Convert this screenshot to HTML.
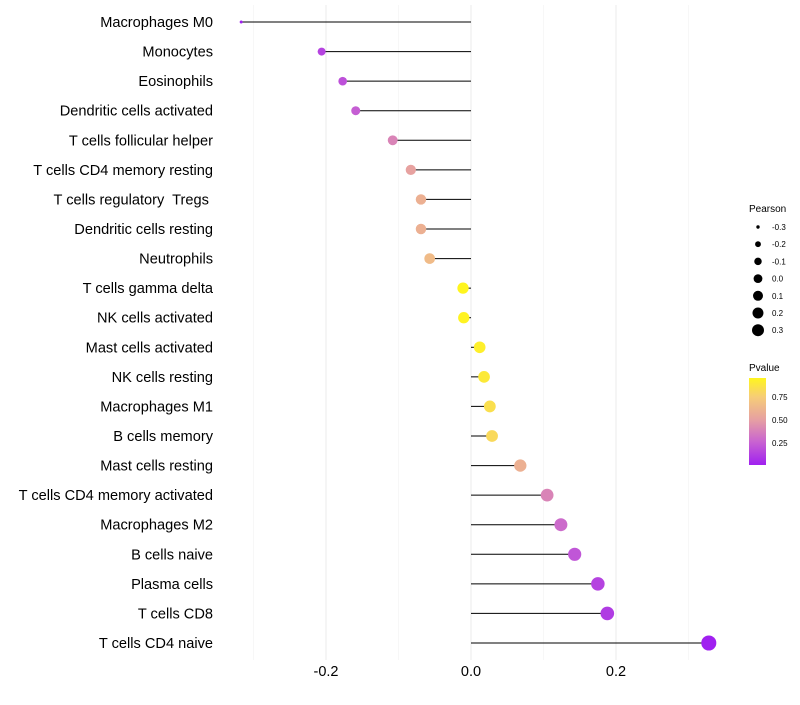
<!DOCTYPE html>
<html><head><meta charset="utf-8"><style>
body{margin:0;background:#fff;font-family:"Liberation Sans",sans-serif}
#ylab text{white-space:pre}
</style></head><body>
<svg id="chart" width="800" height="700" xmlns="http://www.w3.org/2000/svg" font-family="Liberation Sans, sans-serif">
<defs><linearGradient id="pg" x1="0" y1="1" x2="0" y2="0">
<stop offset="0" stop-color="#A020F0"/><stop offset="0.27" stop-color="#C964D0"/><stop offset="0.52" stop-color="#E6A0A2"/><stop offset="0.78" stop-color="#F6CC78"/><stop offset="1" stop-color="#FFF51E"/></linearGradient></defs>
<g id="grid"></g><g id="marks"></g><g id="ylab"></g><g id="xlab"></g>
<g id="sleg"><text x="749" y="212" font-size="10" fill="#000">Pearson</text></g>
<g>
<text x="749" y="371" font-size="10" fill="#000">Pvalue</text>
<rect x="749" y="378" width="17" height="87" fill="url(#pg)"/>
<text x="772" y="400" font-size="8">0.75</text><text x="772" y="423" font-size="8">0.50</text><text x="772" y="446" font-size="8">0.25</text>
</g>
</svg>
<script>
const cells=["Macrophages M0","Monocytes","Eosinophils","Dendritic cells activated","T cells follicular helper","T cells CD4 memory resting","T cells regulatory  Tregs ","Dendritic cells resting","Neutrophils","T cells gamma delta","NK cells activated","Mast cells activated","NK cells resting","Macrophages M1","B cells memory","Mast cells resting","T cells CD4 memory activated","Macrophages M2","B cells naive","Plasma cells","T cells CD8","T cells CD4 naive"];
const pearson=[-0.317,-0.206,-0.177,-0.159,-0.108,-0.083,-0.069,-0.069,-0.057,-0.011,-0.010,0.012,0.018,0.026,0.029,0.068,0.105,0.124,0.143,0.175,0.188,0.328];
const pvalue=[0.02,0.15,0.2,0.25,0.4,0.52,0.6,0.6,0.66,0.96,0.95,0.93,0.9,0.85,0.82,0.6,0.4,0.3,0.22,0.15,0.12,0.02];
const xTicks=[-0.2,0,0.2];
const xTickLabels=["-0.2","0.0","0.2"];
const minorTicks=[-0.3,-0.1,0.1,0.3];
const sizeLegend=[-0.3,-0.2,-0.1,0.0,0.1,0.2,0.3];
const NS="http://www.w3.org/2000/svg";
const x=v=>471+v*725;
const y=i=>22+i*(621/21);
const r=v=>1.5+7.5*Math.sqrt(Math.max(0,v+0.317));
const rl=v=>Math.sqrt(Math.max(1.8,19.4+55*v));
const stops=[[0,[160,32,240]],[0.27,[201,100,208]],[0.52,[230,160,162]],[0.78,[246,204,120]],[1,[255,245,30]]];
function col(p){let t=(p-0.02)/(0.96-0.02);t=Math.max(0,Math.min(1,t));
for(let k=1;k<stops.length;k++){if(t<=stops[k][0]){const a=stops[k-1],b=stops[k],f=(t-a[0])/(b[0]-a[0]);return `rgb(${a[1].map((c,j)=>Math.round(c+(b[1][j]-c)*f)).join(',')})`;}}return 'rgb(255,245,30)';}
function mk(tag,at,par){const e=document.createElementNS(NS,tag);for(const k in at)e.setAttribute(k,at[k]);document.getElementById(par).appendChild(e);return e;}
const grid="grid";
minorTicks.forEach(v=>{const l=mk('line',{x1:x(v),x2:x(v),y1:5,y2:660,stroke:'#f2f2f2','stroke-width':0.6},grid);

});
xTicks.forEach((v,i)=>{const l=mk('line',{x1:x(v),x2:x(v),y1:5,y2:660,stroke:'#ebebeb','stroke-width':1},grid);


const t=mk('text',{x:x(v),y:676,'text-anchor':'middle','font-size':14.5,fill:'#000'},'xlab');t.textContent=xTickLabels[i];

});
cells.forEach((c,i)=>{
const t=mk('text',{x:213,y:y(i)+5,'text-anchor':'end','font-size':14.6,fill:'#000'},'ylab');t.textContent=c;


const l=mk('line',{x1:x(0),x2:x(pearson[i]),y1:y(i),y2:y(i),stroke:'#000','stroke-width':1},'marks');


const p=mk('circle',{cx:x(pearson[i]),cy:y(i),r:r(pearson[i]),fill:col(pvalue[i])},'marks');


});
sizeLegend.forEach((v,i)=>{const yy=227+i*17.2;
const c=mk('circle',{cx:758,cy:yy,r:rl(v),fill:'#000'},'sleg');


const t=mk('text',{x:772,y:yy+3,'font-size':8,fill:'#000'},'sleg');t.textContent=v.toFixed(1);

});
</script>
</body></html>
